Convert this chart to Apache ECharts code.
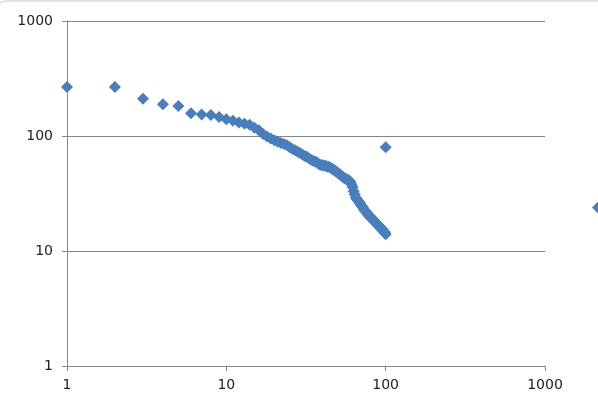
<!DOCTYPE html>
<html>
<head>
<meta charset="utf-8">
<script src="https://cdn.jsdelivr.net/npm/echarts@6/dist/echarts.min.js"></script>
<title>chart</title>
<style>
  html, body { margin: 0; padding: 0; background: #fff; }
  #main { width: 598px; height: 408px; }
</style>
</head>
<body>
<div id="main"></div>
<script type="text/javascript">
// rank (x) and count (y)
var ranks = [];
for (var i = 1; i <= 100; i++) ranks.push(i);
var counts = [
  267, 267, 211, 189, 182, 158, 154, 152, 146, 140,
  136, 131, 128, 125, 118, 112, 104, 99, 95, 92,
  89, 87, 85, 83, 80, 77, 75, 73, 71, 69,
  67, 66, 64, 62, 61, 60, 59, 57, 56, 56,
  55, 55, 54, 54, 53, 52, 51, 50, 49, 48,
  47, 46, 45, 44, 43, 42.5, 42, 41.5, 41, 40,
  38, 36, 33, 31, 29, 28, 27.5, 27, 26, 25,
  24.5, 24, 23, 22.5, 22, 21.5, 21, 20.5, 20, 20,
  19.5, 19, 19, 18.5, 18, 18, 17.5, 17, 17, 16.5,
  16.5, 16, 16, 15.5, 15.5, 15, 15, 14.5, 14.5, 14
];
var outlierX = [100];
var outlierY = [80];

var points = [];
for (var k = 0; k < ranks.length; k++) points.push([ranks[k], counts[k]]);
for (var m = 0; m < outlierX.length; m++) points.push([outlierX[m], outlierY[m]]);

function plain(v) { return String(Math.round(v)); }

var myChart = echarts.init(document.getElementById('main'));
myChart.setOption({
  animation: false,
  backgroundColor: '#fff',
  textStyle: { fontFamily: 'DejaVu Sans' },
  grid: { left: 67, top: 21, right: 53, bottom: 42 },
  legend: {
    left: 587, top: 196,
    icon: 'diamond',
    itemWidth: 12, itemHeight: 12,
    textStyle: { fontSize: 13, color: '#222' },
    data: ['Series1']
  },
  graphic: [{
    type: 'rect',
    shape: { x: -4, y: 1, width: 720, height: 520, r: 10 },
    style: { fill: 'none', stroke: '#c4c4c4', lineWidth: 1 },
    silent: true
  }],
  xAxis: {
    type: 'log',
    logBase: 10,
    min: 1,
    max: 1000,
    axisLine: { show: true, lineStyle: { color: '#868686' } },
    axisTick: { show: true, length: 5, lineStyle: { color: '#868686' } },
    minorTick: { show: false },
    splitLine: { show: false },
    axisLabel: { color: '#222', fontSize: 14, margin: 12, formatter: plain }
  },
  yAxis: {
    type: 'log',
    logBase: 10,
    min: 1,
    max: 1000,
    axisLine: { show: true, lineStyle: { color: '#868686' } },
    axisTick: { show: true, length: 5, lineStyle: { color: '#868686' } },
    splitLine: { show: true, lineStyle: { color: '#868686' } },
    axisLabel: { color: '#222', fontSize: 14, margin: 14, formatter: plain }
  },
  series: [{
    name: 'Series1',
    type: 'scatter',
    symbol: 'diamond',
    symbolSize: 12,
    itemStyle: { color: '#4a7ebb', opacity: 1 },
    data: points
  }]
});
</script>
</body>
</html>
